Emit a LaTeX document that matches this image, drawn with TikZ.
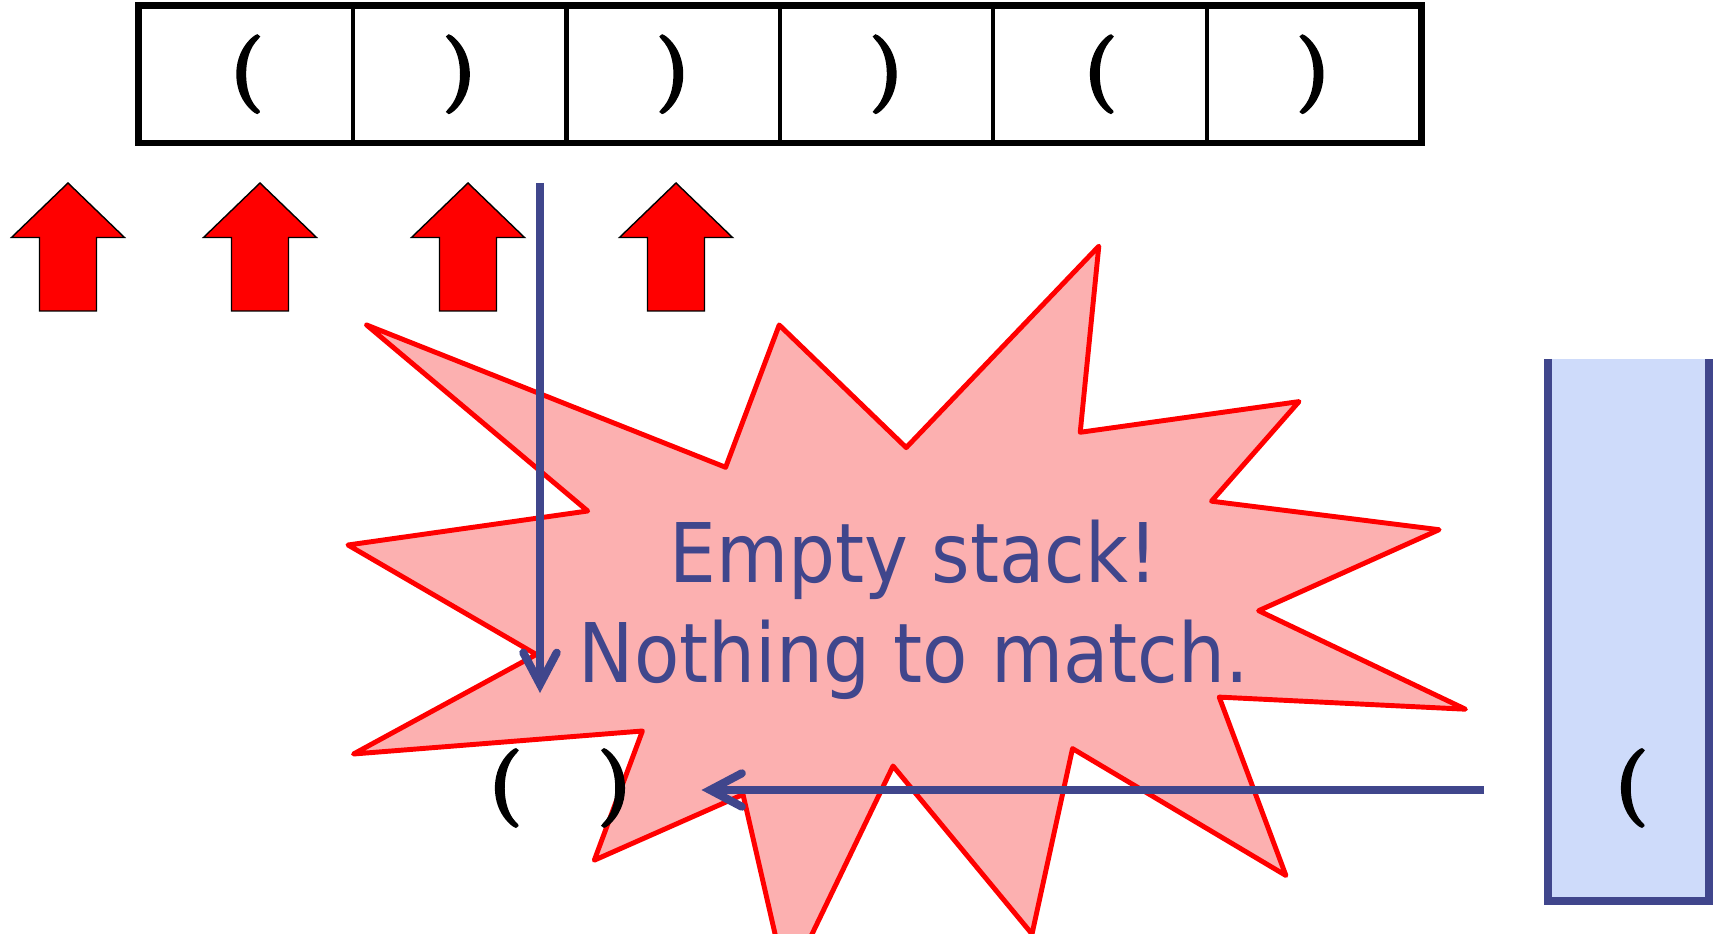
\documentclass[tikz,border=0pt]{standalone}
\usepackage{fontspec}
\newfontfamily\msgfont{DejaVu Sans Condensed}
\newfontfamily\parenfont[FakeBold=3]{lmroman10-bold.otf}
\usetikzlibrary{arrows.meta}

\definecolor{inkblue}{RGB}{64,70,140}
\definecolor{stackfill}{RGB}{206,219,250}
\definecolor{burstpink}{RGB}{252,176,176}

\newcommand\opn{(}
\newcommand\cls{)}

\begin{document}
\begin{tikzpicture}[x=0.01cm, y=-0.01cm,
    every node/.style={inner sep=0pt},
    paren/.style={font=\parenfont\fontsize{22}{26}\selectfont},
    cellbox/.style={draw, line width=1.15pt, minimum width=2.134cm, minimum height=1.351cm, paren},
    redarrow/.style={fill=red, draw=black, line width=0.4pt},
    bluearrow/.style={draw=inkblue, line width=2.3pt, -{Straight Barb[length=9pt,width=9.5pt,line cap=round]}},
    burst/.style={fill=burstpink, draw=red, line width=1.4pt, line join=round},
    msg/.style={text=inkblue, font=\msgfont\fontsize{23.4}{28}\selectfont, anchor=base}]
    \useasboundingbox (0,0) rectangle (1716,934);
    % input tape
    \foreach \s [count=\i] in {\opn,\cls,\cls,\cls,\opn,\cls}
        \node[cellbox] (c\i) at ({139.7+213.4*(\i-0.5)},74.2) {\s};
    \draw[line width=1.5pt] (c1.north west) rectangle (c6.south east);
    % read positions
    \foreach \t in {68,260,468,676}
        \draw[redarrow] (\t,183) -- ++(56.5,54.5) -- ++(-28,0) -- ++(0,73.5)
            -- ++(-57,0) -- ++(0,-73.5) -- ++(-28,0) -- cycle;
    % the burst
    \begin{scope}
        \clip (0,0) rectangle (1716,934);
        \filldraw[burst] (366.6,325) -- (725.6,467.3) -- (779.2,325) -- (906.2,447.6)
            -- (1098.8,246.2) -- (1080.2,432.3) -- (1299,401.6) -- (1211.5,501.2)
            -- (1439.1,529.7) -- (1258.6,610.7) -- (1465.4,709.2) -- (1219.2,697.1)
            -- (1285.9,875.5) -- (1072.5,748.6) -- (1032,934) -- (893,766)
            -- (787,986) -- (743,794.5) -- (594.3,860.2) -- (642.4,731)
            -- (353.5,754) -- (536.3,654.5) -- (348,545) -- (587.7,511) -- cycle;
    \end{scope}
    \node[msg] (msga) at (914,582) {Empty stack!};
    \node[msg] (msgb) at (914,682) {Nothing to match.};
    % stack
    \fill[stackfill] (1548,359) rectangle (1709,901);
    \draw[inkblue, line width=2.2pt] (1548,359) -- (1548,901) -- (1709,901) -- (1709,359);
    \node[paren] (top) at (1631,788) {(};
    % current pair
    \node[paren] (lp) at (505,788) {(};
    \node[paren] (rp) at (615,788) {)};
    \coordinate (vtop) at (540,183);
    \coordinate (vtip) at (540,693);
    \coordinate (hstart) at (1484,790);
    \coordinate (htip) at (701.5,790);
    \draw[bluearrow] (vtop) -- (vtip);
    \draw[bluearrow] (hstart) -- (htip);
\end{tikzpicture}
\end{document}
